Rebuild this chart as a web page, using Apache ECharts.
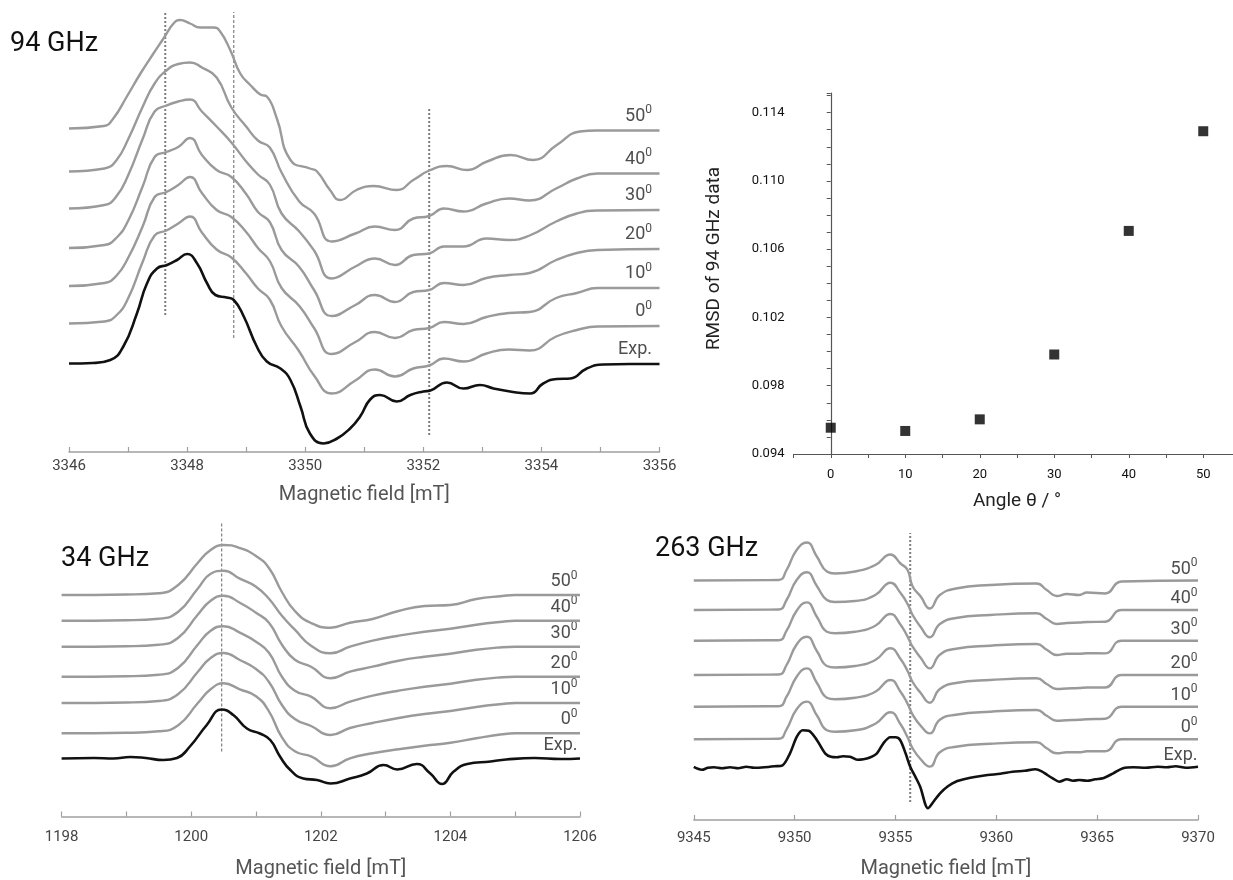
<!DOCTYPE html>
<html>
<head>
<meta charset="utf-8">
<script src="https://cdn.jsdelivr.net/npm/echarts@6/dist/echarts.min.js"></script>
<style>
  html, body { margin: 0; padding: 0; background: #fff; }
  #chart { width: 1233px; height: 880px; }
</style>
</head>
<body>
<div id="chart"></div>
<script>
// ---------------- data ----------------
// Trace order in every spectrum panel: experiment first, then simulations by angle.
const traceNames = ['Exp.', '0', '10', '20', '30', '40', '50'];

// ---- 94 GHz (field in mT, intensity relative to each trace's baseline, a.u.) ----
const field94 = [3346.0, 3346.6, 3346.8, 3347.0, 3347.25, 3347.45, 3347.65, 3347.85, 3348.05, 3348.25,
  3348.5, 3348.75, 3349.0, 3349.2, 3349.4, 3349.6, 3349.9, 3350.15, 3350.45, 3350.85,
  3351.18, 3351.52, 3351.83, 3352.1, 3352.35, 3352.68, 3353.07, 3353.45, 3353.8, 3354.25,
  3354.6, 3354.95, 3356.0];
const sim94_0  = [0, 2, 8, 25, 62, 88, 93, 100, 107, 91, 74, 66, 50, 35, 24, -3, -28, -52, -70, -57,
  -46, -53, -45, -42, -35, -38, -30, -26, -27, -13, -6.5, -3, -2.5];
const sim94_10 = [0, 3, 10, 28, 60, 89, 94, 101, 109, 93, 76, 69, 54, 38, 25, -2, -20, -42, -68, -56,
  -46, -52, -44, -42, -36, -38, -31, -27, -26, -12, -7, -2, -2];
const sim94_20 = [0, 3, 10, 27, 62, 91, 96, 101, 110, 93, 78, 71, 54, 36, 26, -2, -19, -42, -68, -57,
  -47, -54, -44, -42, -35, -37, -30, -27, -25, -12, -5, -2, -1];
const sim94_30 = [0, 3.5, 12, 33, 70, 97, 103, 107, 109, 97, 82, 66, 47, 34, 24, -5, -23, -42, -70, -58,
  -50, -56.5, -46.5, -45, -38, -38, -30, -31.5, -27, -13, -5, -2, -1.5];
const sim94_40 = [0, 3, 11, 32, 65, 88, 101, 107.5, 109, 104, 94, 64, 45, 31, 24, -1, -30, -42, -70, -62,
  -55, -58.5, -47, -44.5, -37, -40, -32, -27, -29, -17, -7, -2, -2];
const field94_50 = [3346.0, 3346.59, 3346.75, 3346.98, 3347.21, 3347.43, 3347.60, 3347.77, 3347.88, 3348.05,
  3348.22, 3348.45, 3348.56, 3348.73, 3348.90, 3349.07, 3349.24, 3349.35, 3349.52, 3349.75,
  3350.08, 3350.20, 3350.42, 3350.59, 3350.87, 3351.16, 3351.55, 3351.83, 3352.12, 3352.40,
  3352.74, 3353.08, 3353.48, 3353.86, 3354.26, 3354.65, 3354.94, 3356.0];
const sim94_50 = [0, 2.5, 10, 32, 55, 75, 90, 105, 108.5, 105, 101, 101, 97, 78.5, 55, 43.5, 34, 32, 10, -31.5,
  -40, -43, -61.5, -71.5, -61.5, -57.5, -61.5, -51.5, -41.5, -37.5, -41.5, -33, -26.5, -31.5, -16.5, -3, -2, -2];
const fieldExp94 = [3346.0, 3346.4, 3346.7, 3346.92, 3347.15, 3347.32, 3347.49, 3347.66, 3347.83, 3348.0,
  3348.17, 3348.34, 3348.48, 3348.67, 3348.79, 3348.96, 3349.18, 3349.35, 3349.58, 3349.75,
  3349.92, 3350.08, 3350.31, 3350.54, 3350.76, 3350.93, 3351.1, 3351.27, 3351.55, 3351.78,
  3352.0, 3352.12, 3352.40, 3352.68, 3352.96, 3353.19, 3353.47, 3353.81, 3354.03, 3354.26,
  3354.49, 3354.77, 3355.05, 3355.5, 3356.0];
const exp94 = [0, 0.5, 3.5, 17, 50, 80, 95, 98.5, 103.5, 109.5, 100, 80, 68.5, 66, 63.5, 47, 17, 2, -5, -16.5,
  -43, -70, -80, -75, -65, -53, -36, -31.5, -38, -31.5, -28, -27, -19, -25, -21.5, -25, -28, -30, -20, -15.5,
  -15, -5, -1, -0.5, -0.5];
// vertical stacking offsets (Exp., 0..50)
const offsets94 = [88.5, 128.5, 166, 204, 243.5, 280.5, 323.5];
// dotted guide lines: [field, lower, upper]
const guides94 = [[3347.63, 137, 440], [3348.79, 114, 440], [3352.10, 17, 344]];

// ---- 34 GHz ----
const field34 = [1198.0, 1199.0, 1199.5, 1199.8, 1200.1, 1200.3, 1200.5, 1200.75, 1201.0, 1201.2,
  1201.4, 1201.6, 1201.85, 1202.15, 1202.45, 1202.8, 1203.2, 1203.6, 1204.0, 1204.4, 1204.8, 1205.0, 1206.0];
const sim34_0  = [0, 0.5, 2, 8, 30, 44, 50, 44, 37, 22, -4, -18, -23, -33, -25, -20, -16, -12.5, -9.5, -5, -1, 0, 0];
const sim34_10 = [0, 0.5, 2, 9, 31, 45, 50, 43, 34, 21, -2, -16, -23, -32, -25, -20, -15, -11, -8, -4, -1, 0, 0];
const sim34_20 = [0, 0.5, 2, 9, 32, 46, 50.5, 44, 35, 24, 0, -14, -20, -31.5, -25, -19, -14, -10, -7, -3, -0.5, 0, 0];
const sim34_30 = [0, 0.5, 2, 9, 32, 46, 51, 44, 34, 24, 2, -13, -20, -31.5, -25, -20, -14, -10, -7, -3, -0.5, 0, 0];
const sim34_40 = [0, 0.5, 2, 9, 32, 47, 50, 42, 34, 22, 5, -9, -25, -32.6, -26, -20, -15, -11, -8, -4, -1, 0, 0];
const sim34_50 = [0, 0.5, 1.7, 10, 32, 45, 50, 47, 39, 27, 3, -16, -28, -32.7, -27.7, -24, -16, -11, -10, -4, -1, 0, 0];
const fieldExp34 = [1198.0, 1198.5, 1198.8, 1199.06, 1199.3, 1199.57, 1199.78, 1199.98, 1200.24, 1200.47,
  1200.65, 1200.86, 1201.06, 1201.22, 1201.37, 1201.53, 1201.73, 1201.94, 1202.15, 1202.45,
  1202.71, 1202.97, 1203.18, 1203.48, 1203.69, 1203.87, 1204.05, 1204.26, 1204.62, 1204.86,
  1205.3, 1205.7, 1206.0];
const exp34 = [0, 0.5, 0, 1.5, 0.5, -1.5, 0.5, 12, 33.5, 49, 43.5, 30, 25, 18.5, 2, -11.5, -20, -21.5, -25, -20,
  -15, -6.5, -11, -5.5, -15, -25.5, -13, -5.5, -3, -1, 0.5, -0.5, 0];
const offsets34 = [58, 83.2, 113.5, 139.8, 169.8, 195.8, 221.5];
const guides34 = [[1200.47, 65, 293]];

// ---- 263 GHz ----
const field263 = [9345, 9349.2, 9349.6, 9350.1, 9350.6, 9351.1, 9351.6, 9352.0, 9353.0, 9354.0,
  9354.75, 9355.25, 9355.6, 9355.85, 9356.25, 9356.7, 9357.2, 9358.0, 9359.7, 9362.0,
  9362.5, 9363.0, 9363.5, 9364.1, 9364.5, 9365.4, 9366.2, 9370];
const sim263_0  = [0, 0.5, 10, 30, 37.7, 24, 9, 7.5, 9, 15.5, 27, 15, 2, -9, -20, -27.3, -13, -7.5, -4.5, -3,
  -9, -14, -13, -13, -12, -12, 0, 0];
const sim263_10 = [0, 0.5, 10, 30, 38.3, 24, 9, 7.5, 9, 15, 26.7, 15, 3, -8, -19, -26.7, -13, -8, -5, -3.3,
  -9, -14, -13.5, -13, -12.5, -12, 0, 0];
const sim263_20 = [0, 0.5, 10, 30.5, 38.3, 24, 9, 7.5, 9, 15, 26.7, 16, 4, -7, -18, -27.7, -14, -8, -5, -3.3,
  -9, -14, -13.5, -13, -12.5, -12.5, 0, 0];
const sim263_30 = [0, 0.5, 10, 30, 38.3, 24, 9, 7.5, 9, 15, 26.7, 16, 4, -6, -17, -27.7, -14, -8, -5, -3.3,
  -9, -14.3, -13, -13, -12.5, -12.7, 0, 0];
const sim263_40 = [0, 0.5, 10, 30, 37.7, 24, 10, 8, 9, 15, 27.3, 17, 6, -5, -17, -27.3, -14, -8, -5, -3.3,
  -9, -14, -13, -12.5, -12, -11.7, 0, 0];
const sim263_50 = [0, 0.5, 10.5, 30.5, 38, 24, 9, 7, 9, 15.5, 26, 17, 10.5, -6, -16, -28, -14.5, -8, -4.5, -3,
  -9.5, -15.5, -13.5, -14.5, -12, -13, -1, 0];
const fieldExp263 = [9345, 9345.2, 9345.4, 9345.7, 9346.0, 9346.4, 9346.8, 9347.2, 9347.6, 9348.0,
  9348.5, 9349.0, 9349.4, 9349.77, 9350.11, 9350.4, 9350.7, 9351.1, 9351.51, 9351.8,
  9352.09, 9352.4, 9352.75, 9353.1, 9353.41, 9353.7, 9354.08, 9354.4, 9354.74, 9355.0,
  9355.23, 9355.5, 9355.73, 9356.0, 9356.23, 9356.61, 9356.9, 9357.21, 9357.6, 9357.99,
  9358.5, 9359.0, 9359.57, 9360.2, 9360.8, 9361.4, 9361.94, 9362.25, 9362.53, 9362.8,
  9363.12, 9363.5, 9363.8, 9364.11, 9364.5, 9364.9, 9365.29, 9365.8, 9366.28, 9366.8,
  9367.4, 9368.0, 9368.45, 9368.9, 9369.4, 9370];
const exp263 = [0.5, -1.5, -2.5, -0.5, 0, -1, 0, -1, 0.5, -0.5,
  0, 1, 2, 14, 30.6, 37, 36.5, 27.3, 14, 10.5,
  10, 11, 10.6, 7.5, 8, 9.5, 14, 24, 30, 30,
  27.3, 14, 0.6, -10, -19.7, -41, -34, -26, -19, -14.4,
  -11.5, -9.5, -7.7, -6.5, -4.5, -3.5, -2, -4, -7.7, -11,
  -14.4, -12, -13.5, -12.7, -13.5, -12, -11, -6, -1, 0,
  -0.5, 0.5, 0, 1, -0.5, 0.6];
const offsets263 = [52.7, 80.7, 113.3, 145, 179.3, 210, 239.5];
const guides263 = [[9355.73, 18, 287]];

// ---- RMSD of the 94 GHz fits vs. tilt angle ----
const angles = [0, 10, 20, 30, 40, 50];
const rmsd = [0.09554, 0.09535, 0.09603, 0.09983, 0.10707, 0.11291];

// ---------------- chart ----------------
const FONT = 'Roboto, "Noto Sans", sans-serif';
const GRAY = '#9a9a9a';
const BLACK = '#111111';

function trace(fields, vals, offset, axis, isExp, smooth) {
  return {
    type: 'line', xAxisIndex: axis, yAxisIndex: axis,
    data: fields.map((f, i) => [f, offset + vals[i]]),
    showSymbol: false, symbol: 'none', smooth: smooth,
    lineStyle: { color: isExp ? BLACK : GRAY, width: isExp ? 2.6 : 2.4, join: 'round' },
    z: isExp ? 4 : 3, silent: true
  };
}

function guide(g, axis, width, dash) {
  return {
    type: 'line', xAxisIndex: axis, yAxisIndex: axis,
    data: [[g[0], g[1]], [g[0], g[2]]],
    symbol: 'none', silent: true, z: 2,
    lineStyle: { color: '#7f7f7f', width: width, type: dash }
  };
}

function labelSeries(xEnd, offsets, lastVals, axis, dx, dy) {
  return {
    type: 'scatter', xAxisIndex: axis, yAxisIndex: axis, silent: true,
    symbolSize: 1, itemStyle: { color: 'rgba(0,0,0,0)' },
    data: traceNames.map((n, i) => ({ name: n, value: [xEnd, offsets[i] + lastVals[i]] })),
    label: {
      show: true, position: [dx, dy], align: 'right', verticalAlign: 'bottom',
      formatter: p => p.name === 'Exp.' ? '{n|Exp.}' : '{n|' + p.name + '}{s|0}',
      rich: {
        n: { fontSize: 18, color: '#222', fontFamily: FONT, lineHeight: 21, verticalAlign: 'bottom' },
        s: { fontSize: 12, color: '#222', fontFamily: FONT, lineHeight: 13, verticalAlign: 'top' }
      }
    }
  };
}

function fieldAxis(grid, min, max, interval, minorSplit, margin, nameGap) {
  return {
    gridIndex: grid, type: 'value', min: min, max: max, interval: interval,
    name: 'Magnetic field [mT]', nameLocation: 'middle', nameGap: nameGap,
    nameTextStyle: { fontSize: 20, color: '#555', fontFamily: FONT },
    axisLine: { show: true, lineStyle: { color: '#a0a0a0', width: 1.5 } },
    axisTick: { show: true, inside: true, length: 5, lineStyle: { color: '#a0a0a0', width: 1.2 } },
    minorTick: { show: minorSplit > 1, splitNumber: minorSplit, length: 5, lineStyle: { color: '#a0a0a0', width: 1.2 } },
    axisLabel: { fontSize: 15, color: '#444', margin: margin, fontFamily: FONT, formatter: v => String(v) },
    splitLine: { show: false }, minorSplitLine: { show: false }
  };
}

function hiddenY(grid, max) {
  return { gridIndex: grid, type: 'value', min: 0, max: max, show: false, splitLine: { show: false } };
}

const series = [];
// 94 GHz panel (axis index 0)
const sims94 = [sim94_0, sim94_10, sim94_20, sim94_30, sim94_40];
sims94.forEach((s, i) => series.push(trace(field94, s, offsets94[i + 1], 0, false, 0.5)));
series.push(trace(field94_50, sim94_50, offsets94[6], 0, false, 0.5));
series.push(trace(fieldExp94, exp94, offsets94[0], 0, true, 0.5));
series.push(guide(guides94[0], 0, 2, [2, 2]));
series.push(guide(guides94[1], 0, 1.2, [3, 2]));
series.push(guide(guides94[2], 0, 2, [2, 2]));
const last94 = [exp94, sim94_0, sim94_10, sim94_20, sim94_30, sim94_40, sim94_50].map(a => a[a.length - 1]);
series.push(labelSeries(3356, offsets94, last94, 0, -7, -5));

// RMSD scatter (axis index 1)
series.push({
  type: 'scatter', xAxisIndex: 1, yAxisIndex: 1,
  data: angles.map((a, i) => [a, rmsd[i]]),
  symbol: 'rect', symbolSize: 10, itemStyle: { color: '#000' }
});

// 34 GHz panel (axis index 2)
const sims34 = [sim34_0, sim34_10, sim34_20, sim34_30, sim34_40, sim34_50];
sims34.forEach((s, i) => series.push(trace(field34, s, offsets34[i + 1], 2, false, 0.5)));
series.push(trace(fieldExp34, exp34, offsets34[0], 2, true, 0.5));
series.push(guide(guides34[0], 2, 1.2, [3, 2]));
const last34 = [exp34].concat(sims34).map(a => a[a.length - 1]);
series.push(labelSeries(1206, offsets34, last34, 2, -2, -4));

// 263 GHz panel (axis index 3)
const sims263 = [sim263_0, sim263_10, sim263_20, sim263_30, sim263_40, sim263_50];
sims263.forEach((s, i) => series.push(trace(field263, s, offsets263[i + 1], 3, false, 0.5)));
series.push(trace(fieldExp263, exp263, offsets263[0], 3, true, 0.3));
series.push(guide(guides263[0], 3, 2, [2, 2]));
const last263 = [exp263].concat(sims263).map(a => a[a.length - 1]);
series.push(labelSeries(9370, offsets263, last263, 3, 0, -2));

const option = {
  animation: false,
  backgroundColor: '#ffffff',
  textStyle: { fontFamily: FONT },
  title: [
    { text: '94 GHz', left: 10, top: 31, padding: 0, textStyle: { fontSize: 27, fontWeight: 'normal', color: '#111', fontFamily: FONT } },
    { text: '34 GHz', left: 61, top: 546, padding: 0, textStyle: { fontSize: 27, fontWeight: 'normal', color: '#111', fontFamily: FONT } },
    { text: '263 GHz', left: 655, top: 536, padding: 0, textStyle: { fontSize: 27, fontWeight: 'normal', color: '#111', fontFamily: FONT } }
  ],
  grid: [
    { left: 69, top: 0, width: 590.5, height: 452, outerBoundsMode: 'none' },
    { left: 793.5, top: 93, width: 447, height: 361, outerBoundsMode: 'none' },
    { left: 61.6, top: 500, width: 518.4, height: 316.5, outerBoundsMode: 'none' },
    { left: 693.8, top: 500, width: 504.2, height: 320, outerBoundsMode: 'none' }
  ],
  xAxis: [
    fieldAxis(0, 3346, 3356, 2, 2, 7, 33),
    {
      gridIndex: 1, type: 'value', min: -5, max: 55, interval: 5,
      name: 'Angle θ / °', nameLocation: 'middle', nameGap: 38,
      nameTextStyle: { fontSize: 19, color: '#222', fontFamily: FONT },
      axisLine: { show: true, lineStyle: { color: '#555', width: 1.2 } },
      axisTick: { show: true, inside: false, length: 4, lineStyle: { color: '#555' } },
      axisLabel: {
        fontSize: 13, color: '#111', margin: 14, fontFamily: FONT,
        formatter: v => (Math.round(v) % 10 === 0 && v >= 0 && v <= 50) ? String(Math.round(v)) : ''
      },
      splitLine: { show: false }
    },
    fieldAxis(2, 1198, 1206, 2, 2, 13.5, 42.5),
    fieldAxis(3, 9345, 9370, 5, 0, 11, 39)
  ],
  yAxis: [
    hiddenY(0, 452),
    {
      gridIndex: 1, type: 'value', min: 0.094, max: 0.11515, interval: 0.001,
      name: 'RMSD of 94 GHz data', nameLocation: 'middle', nameGap: 70, nameRotate: 90,
      nameTextStyle: { fontSize: 19, color: '#222', fontFamily: FONT, padding: [0, 0, 0, 30] },
      axisLine: { show: true, lineStyle: { color: '#555', width: 1.2 } },
      axisTick: { show: true, inside: false, length: 4, lineStyle: { color: '#555' } },
      axisLabel: {
        fontSize: 13, color: '#111', margin: 9, fontFamily: FONT,
        formatter: v => {
          const k = Math.round((v - 0.094) / 0.001);
          return (k % 4 === 0 && k <= 20) ? v.toFixed(3) : '';
        }
      },
      splitLine: { show: false }
    },
    hiddenY(2, 316.5),
    hiddenY(3, 320)
  ],
  series: series
};

const chart = echarts.init(document.getElementById('chart'), null, { renderer: 'canvas' });
chart.setOption(option);
</script>
</body>
</html>
